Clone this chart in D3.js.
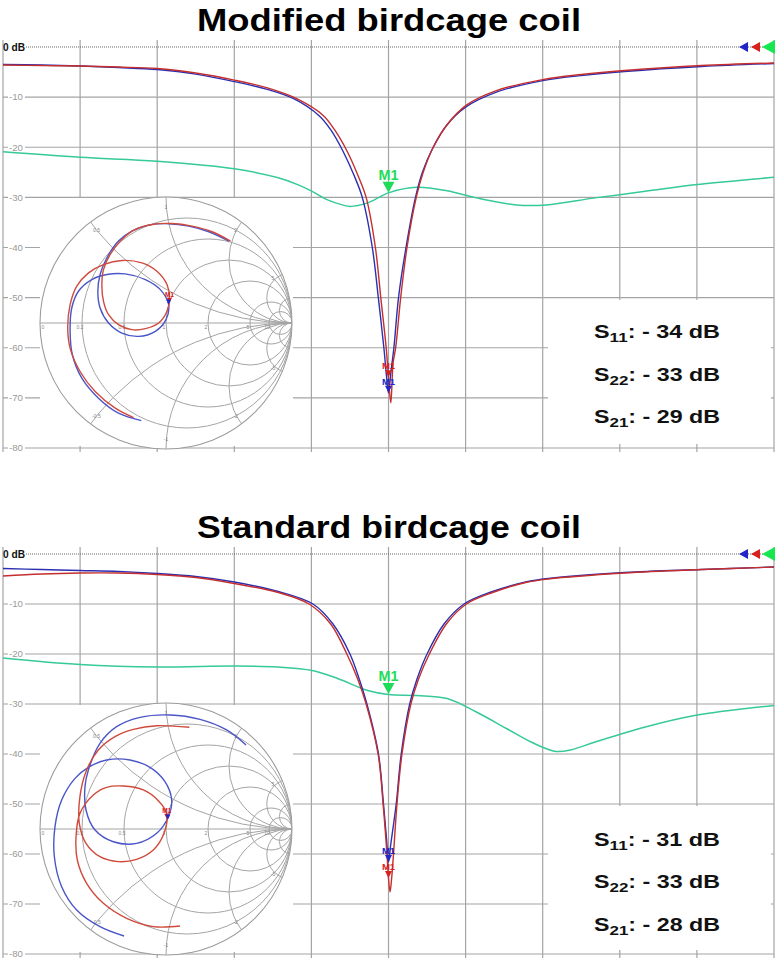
<!DOCTYPE html>
<html><head><meta charset="utf-8">
<script src="https://cdn.jsdelivr.net/npm/d3@7"></script>
<style>
body{margin:0;background:#fff}
svg{display:block}
text{font-family:"Liberation Sans",Arial,Helvetica,sans-serif}
</style>
</head><body>
<svg id="c" width="778" height="965"></svg>
<script>
// ================= DATA =================
const titles = ["Modified birdcage coil", "Standard birdcage coil"];
const dbTicks = [-10, -20, -30, -40, -50, -60, -70, -80];
const gridDivs = [1, 2, 3, 4, 5, 6, 7, 8, 9, 10];   // frequency divisions
const markerFreq = 5.0;                              // M1 frequency (division units)

// [frequency (div), dB]
const topS11 = [[0,-3.6],[0.5,-3.7],[1,-3.8],[1.5,-4.0],[2,-4.3],[2.5,-5.2],[3,-6.6],[3.44,-8.2],[3.81,-10.3],[4.15,-13.6],[4.3,-16.5],[4.47,-21],[4.6,-25.5],[4.71,-30],[4.83,-40],[4.9,-50],[4.97,-60],[5.0,-66],[5.03,-71],[5.06,-63],[5.093,-60],[5.158,-50],[5.24,-40],[5.36,-30],[5.45,-25],[5.58,-20],[5.76,-15.5],[6.01,-11.6],[6.4,-8.7],[7.0,-6.5],[7.5,-5.5],[8.06,-4.7],[9.06,-3.7],[10,-3.2]];
const topS22 = [[0,-3.5],[0.5,-3.6],[1,-3.8],[1.5,-4.1],[2,-4.5],[2.5,-5.4],[3,-6.9],[3.44,-8.5],[3.77,-10.3],[4.1,-13.7],[4.25,-16.5],[4.41,-20.8],[4.55,-25.5],[4.66,-30],[4.79,-40],[4.868,-50],[4.94,-60],[4.97,-65],[5.0,-69],[5.03,-65],[5.07,-60],[5.13,-50],[5.227,-40],[5.35,-30],[5.44,-25],[5.57,-20.3],[5.75,-15.7],[6.0,-12],[6.4,-9],[7.0,-6.7],[7.5,-5.7],[8.06,-4.9],[9.06,-3.9],[10,-3.3]];
const topS21 = [[0,-20.9],[1,-22.0],[2,-22.8],[3,-24.3],[3.57,-26.1],[3.83,-27.5],[4.01,-28.8],[4.21,-30.5],[4.4,-31.5],[4.5,-31.8],[4.73,-31.1],[5.0,-29.1],[5.37,-28.0],[5.76,-28.7],[6.14,-30.1],[6.66,-31.5],[7.04,-31.5],[7.68,-30.1],[8.33,-28.8],[8.97,-27.5],[10,-26.0]];
const topMarkerDb = [-65.9, -69.0, -29.1];   // S11, S22, S21 at M1

const botS11 = [[0,-4.4],[0.5,-4.0],[1,-3.8],[1.5,-3.8],[2,-4.1],[2.5,-4.7],[3,-5.9],[3.57,-7.7],[3.97,-10],[4.25,-14],[4.46,-20],[4.6,-25],[4.71,-30],[4.865,-40],[4.93,-50],[4.98,-60],[5.0,-64.8],[5.02,-67.6],[5.04,-65],[5.065,-60],[5.11,-50],[5.175,-40],[5.29,-30],[5.39,-25],[5.53,-20],[5.75,-14],[6.01,-10],[6.35,-7.7],[6.78,-5.7],[7.07,-5.0],[8.06,-3.8],[9.06,-3.1],[10,-2.6]];
const botS22 = [[0,-2.9],[0.5,-3.1],[1,-3.3],[1.5,-3.5],[2,-3.9],[2.5,-4.5],[3,-5.6],[3.57,-7.5],[4.02,-10],[4.28,-14],[4.5,-20],[4.62,-25],[4.72,-30],[4.87,-40],[4.935,-50],[4.975,-57],[5.0,-61.6],[5.03,-58],[5.1,-50],[5.165,-40],[5.275,-30],[5.37,-25],[5.5,-20],[5.72,-14],[5.98,-10],[6.33,-7.6],[6.78,-5.6],[7.07,-4.9],[8.06,-3.7],[9.06,-3.1],[10,-2.6]];
const botS21 = [[0,-20.8],[1,-22.1],[2,-22.6],[3,-22.4],[3.57,-22.6],[4.01,-23.3],[4.34,-24.9],[4.73,-27.3],[5.0,-28.1],[5.37,-28.3],[5.76,-28.9],[6.14,-31.6],[6.53,-34.9],[6.85,-37.6],[7.04,-38.9],[7.17,-39.5],[7.36,-39.2],[7.68,-37.6],[8.33,-34.6],[8.97,-32.3],[10,-30.3]];
const botMarkerDb = [-64.8, -61.6, -28.0];

// Smith chart traces: reflection coefficient [re, im]
const topSmithS11 = [[-0.257,-0.751],[-0.403,-0.676],[-0.562,-0.544],[-0.682,-0.385],[-0.761,-0.199],[-0.780,-0.040],[-0.761,0.146],[-0.708,0.292],[-0.615,0.398],[-0.496,0.464],[-0.350,0.496],[-0.191,0.477],[-0.072,0.411],[0.008,0.305],[0.027,0.199],[0.008,0.093],[-0.058,0.000],[-0.164,-0.045],[-0.271,-0.053],[-0.377,-0.013],[-0.456,0.066],[-0.496,0.172],[-0.509,0.305],[-0.496,0.424],[-0.443,0.544],[-0.350,0.663],[-0.244,0.743],[-0.111,0.782],[0.048,0.790],[0.207,0.769],[0.366,0.724],[0.512,0.650]];
const topSmithS22 = [[-0.196,-0.775],[-0.377,-0.716],[-0.536,-0.597],[-0.668,-0.438],[-0.743,-0.252],[-0.761,-0.066],[-0.748,0.119],[-0.695,0.252],[-0.589,0.345],[-0.469,0.385],[-0.324,0.390],[-0.164,0.345],[-0.045,0.265],[0.021,0.146],[0.000,0.027],[-0.085,-0.066],[-0.218,-0.106],[-0.350,-0.080],[-0.456,0.000],[-0.523,0.119],[-0.541,0.252],[-0.523,0.385],[-0.469,0.517],[-0.377,0.650],[-0.271,0.729],[-0.138,0.777],[0.021,0.788],[0.180,0.769],[0.340,0.724],[0.499,0.650]];
const topSmithM1 = [[0.027,0.185],[0.021,0.146]];   // S11, S22 marker positions

const botSmithS11 = [[0.111,-0.770],[-0.101,-0.775],[-0.312,-0.709],[-0.497,-0.590],[-0.630,-0.431],[-0.704,-0.246],[-0.714,-0.061],[-0.683,0.124],[-0.577,0.270],[-0.471,0.331],[-0.339,0.341],[-0.180,0.310],[-0.061,0.225],[0.005,0.124],[-0.016,-0.034],[-0.101,-0.167],[-0.233,-0.241],[-0.378,-0.259],[-0.524,-0.220],[-0.635,-0.114],[-0.688,0.045],[-0.683,0.257],[-0.635,0.455],[-0.537,0.627],[-0.405,0.733],[-0.259,0.791],[-0.074,0.820],[0.185,0.807]];
const botSmithS22 = [[-0.333,-0.849],[-0.524,-0.775],[-0.709,-0.643],[-0.828,-0.458],[-0.886,-0.220],[-0.881,0.019],[-0.828,0.230],[-0.722,0.402],[-0.616,0.489],[-0.471,0.548],[-0.286,0.548],[-0.127,0.489],[-0.008,0.376],[0.045,0.230],[0.019,0.098],[-0.074,-0.034],[-0.233,-0.114],[-0.418,-0.101],[-0.563,-0.008],[-0.635,0.151],[-0.643,0.336],[-0.616,0.468],[-0.524,0.680],[-0.392,0.812],[-0.206,0.886],[0.032,0.905],[0.270,0.870],[0.481,0.786],[0.635,0.667]];
const botSmithM1 = [[0.006,0.105],[0.015,0.075]];

const summaryTop = [["11", ": - 34 dB"], ["22", ": - 33 dB"], ["21", ": - 29 dB"]];
const summaryBot = [["11", ": - 31 dB"], ["22", ": - 33 dB"], ["21", ": - 28 dB"]];

const smithR = [0.2, 0.5, 1, 2, 5, 10];
const smithX = [0.5, 1, 2, 5, 10];
const smithRLabels = [["0", 0], ["0.2", 0.2], ["0.5", 0.5], ["1", 1], ["2", 2], ["5", 5], ["10", 10]];
const smithXLabels = [["0.5", 0.5], ["1", 1], ["2", 2], ["5", 5], ["-0.5", -0.5], ["-1", -1], ["-2", -2], ["-5", -5]];

// ================= STYLE =================
const C = {
  red: "#c42e2e", blue: "#2b2fb0", green: "#36c99a",
  mGreen: "#1edc5a", mRed: "#d8201c", mBlue: "#2226c8",
  sRed: "#cf4a3c", sBlue: "#4a55c8",
  grid: "#a4a4a4", lab: "#9a9a9a", sgrid: "#a4a4a4"
};

const svg = d3.select("#c");
svg.append("rect").attr("width", 778).attr("height", 965).attr("fill", "#fff");
const x = d3.scaleLinear().domain([0, 10]).range([3, 774]);

const SR = 126;
svg.append("defs").append("clipPath").attr("id", "uc")
  .append("circle").attr("cx", 0).attr("cy", 0).attr("r", SR);

const panels = [
  { title: titles[0], titleY: 31, y0: 47, y1: 448, s11: topS11, s22: topS22, s21: topS21, mk: topMarkerDb,
    scx: 166, scy: 323, inset: [40, 198, 293, 446], box: [548, 300, 771, 444], sm11: topSmithS11, sm22: topSmithS22, sm1: topSmithM1,
    summary: summaryTop, sumY: [338, 381, 423] },
  { title: titles[1], titleY: 538, y0: 554, y1: 954, s11: botS11, s22: botS22, s21: botS21, mk: botMarkerDb,
    scx: 166, scy: 829, inset: [40, 705, 293, 952], box: [548, 806, 771, 950], sm11: botSmithS11, sm22: botSmithS22, sm1: botSmithM1,
    summary: summaryBot, sumY: [846, 888, 931] }
];

function tri(cx, tipY, w, h) {
  return `M${cx - w / 2},${tipY - h}L${cx + w / 2},${tipY - h}L${cx},${tipY}Z`;
}

panels.forEach(p => {
  const y = d3.scaleLinear().domain([0, -80]).range([p.y0, p.y1]);
  const g = svg.append("g");

  // ---- grid ----
  const grid = g.append("g").attr("stroke", C.grid).attr("stroke-width", 1.2).attr("fill", "none");
  grid.selectAll(".v").data(gridDivs).join("line")
    .attr("x1", d => x(d)).attr("x2", d => x(d))
    .attr("y1", p.y0 - 7).attr("y2", p.y1 + 4);
  grid.append("line").attr("x1", x(0)).attr("x2", x(0)).attr("y1", p.y0 - 7).attr("y2", p.y1 + 4);
  grid.selectAll(".h").data(dbTicks).join("line")
    .attr("x1", x(0)).attr("x2", x(10))
    .attr("y1", d => y(d)).attr("y2", d => y(d));

  // tick labels with white background
  const lab = g.append("g");
  lab.selectAll("rect").data(dbTicks).join("rect")
    .attr("x", 8).attr("y", d => y(d) - 5).attr("width", 17).attr("height", 10).attr("fill", "#fff");
  lab.selectAll("text").data(dbTicks).join("text")
    .attr("x", 9).attr("y", d => y(d) + 3.3)
    .attr("font-size", 8.5).attr("fill", C.lab)
    .attr("textLength", 14).attr("lengthAdjust", "spacingAndGlyphs")
    .text(d => d);

  // 0 dB reference (dotted)
  g.append("line").attr("x1", 26).attr("x2", x(10)).attr("y1", y(0)).attr("y2", y(0))
    .attr("stroke", "#666").attr("stroke-width", 1).attr("stroke-dasharray", "1,1");
  g.append("text").attr("x", 3).attr("y", y(0) + 4).attr("font-size", 10.5).attr("font-weight", "bold")
    .attr("fill", "#111").attr("textLength", 22).attr("lengthAdjust", "spacingAndGlyphs").text("0 dB");

  // white inset areas
  const [ix0, iy0, ix1, iy1] = p.inset;
  g.append("rect").attr("x", ix0).attr("y", iy0).attr("width", ix1 - ix0).attr("height", iy1 - iy0).attr("fill", "#fff");
  const [bx0, by0, bx1, by1] = p.box;
  g.append("rect").attr("x", bx0).attr("y", by0).attr("width", bx1 - bx0).attr("height", by1 - by0).attr("fill", "#fff");

  // ---- Smith chart ----
  const sg = g.append("g").attr("transform", `translate(${p.scx},${p.scy})`);
  const sx = d3.scaleLinear().domain([-1, 1]).range([-SR, SR]);
  const sy = d3.scaleLinear().domain([-1, 1]).range([SR, -SR]);
  sg.append("circle").attr("r", SR).attr("fill", "#fff").attr("stroke", "#9c9c9c").attr("stroke-width", 1.1);
  const sgrid = sg.append("g").attr("clip-path", "url(#uc)").attr("fill", "none").attr("stroke", C.sgrid).attr("stroke-width", 1);
  sgrid.selectAll(".r").data(smithR).join("circle")
    .attr("cx", r => sx(r / (r + 1))).attr("cy", sy(0)).attr("r", r => sx(1 / (r + 1)) - sx(0));
  const xs = smithX.flatMap(v => [v, -v]);
  sgrid.selectAll(".x").data(xs).join("circle")
    .attr("cx", sx(1)).attr("cy", v => sy(1 / v)).attr("r", v => sx(1 / Math.abs(v)) - sx(0));
  sgrid.append("line").attr("x1", sx(-1)).attr("x2", sx(1)).attr("y1", sy(0)).attr("y2", sy(0));
  const sl = sg.append("g").attr("font-size", 5).attr("fill", "#888").attr("text-anchor", "middle");
  sl.selectAll(".rl").data(smithRLabels).join("text")
    .attr("x", d => sx((d[1] - 1) / (d[1] + 1)) + (d[1] === 0 ? 3 : -2)).attr("y", sy(0) + 6)
    .text(d => d[0]);
  sl.selectAll(".xl").data(smithXLabels).join("text")
    .attr("x", d => sx(0.92 * (d[1] * d[1] - 1) / (d[1] * d[1] + 1)))
    .attr("y", d => sy(0.92 * 2 * d[1] / (d[1] * d[1] + 1)) + 2)
    .text(d => d[0]);

  const sline = d3.line().x(d => sx(d[0])).y(d => sy(d[1])).curve(d3.curveCatmullRom.alpha(0.5));
  sg.append("path").attr("d", sline(p.sm22)).attr("fill", "none").attr("stroke", C.sBlue).attr("stroke-width", 1.4);
  sg.append("path").attr("d", sline(p.sm11)).attr("fill", "none").attr("stroke", C.sRed).attr("stroke-width", 1.4);
  sg.append("text").attr("x", sx(p.sm1[0][0])).attr("y", sy(p.sm1[0][1]) - 3)
    .attr("font-size", 6.5).attr("font-weight", "bold").attr("fill", C.mRed).attr("text-anchor", "middle").text("M1");
  sg.append("path").attr("d", tri(sx(p.sm1[0][0]), sy(p.sm1[0][1]) + 3, 5, 5)).attr("fill", C.mRed);
  sg.append("path").attr("d", tri(sx(p.sm1[1][0]), sy(p.sm1[1][1]), 5, 5)).attr("fill", C.mBlue);

  // ---- main traces ----
  const line = d3.line().x(d => x(d[0])).y(d => y(d[1])).curve(d3.curveCatmullRom.alpha(0.5));
  g.append("path").attr("d", line(p.s21)).attr("fill", "none").attr("stroke", C.green).attr("stroke-width", 1.5);
  g.append("path").attr("d", line(p.s22)).attr("fill", "none").attr("stroke", C.blue).attr("stroke-width", 1.4);
  g.append("path").attr("d", line(p.s11)).attr("fill", "none").attr("stroke", C.red).attr("stroke-width", 1.4);

  // ---- M1 markers ----
  const mx = x(markerFreq);
  g.append("path").attr("d", tri(mx, y(p.mk[2]), 12, 11)).attr("fill", C.mGreen);
  g.append("text").attr("x", mx).attr("y", y(p.mk[2]) - 13).attr("text-anchor", "middle")
    .attr("font-size", 14).attr("fill", C.mGreen).attr("font-weight", "bold")
    .attr("textLength", 20).attr("lengthAdjust", "spacingAndGlyphs").text("M1");
  [[p.mk[0], C.mRed], [p.mk[1], C.mBlue]].forEach(([v, col]) => {
    g.append("path").attr("d", tri(mx, y(v), 7, 7)).attr("fill", col);
    g.append("text").attr("x", mx).attr("y", y(v) - 8).attr("text-anchor", "middle")
      .attr("font-size", 9.5).attr("font-weight", "bold").attr("fill", col).text("M1");
  });

  // reference-level arrows (top right)
  const ry = y(0);
  [[739, 748, 5, C.mBlue], [751, 760, 5, C.mRed], [762, 775, 7, "#16e650"]].forEach(([a, b, h, col]) => {
    g.append("path").attr("d", `M${a},${ry}L${b},${ry - h}L${b},${ry + h}Z`).attr("fill", col);
  });

  // ---- summary text ----
  p.summary.forEach((s, i) => {
    const t = g.append("text").attr("x", 594).attr("y", p.sumY[i]).attr("font-size", 18.5)
      .attr("font-weight", "bold").attr("fill", "#111")
      .attr("textLength", 126).attr("lengthAdjust", "spacingAndGlyphs");
    t.append("tspan").text("S");
    t.append("tspan").attr("font-size", 13.5).attr("dy", 3.5).text(s[0]);
    t.append("tspan").attr("dy", -3.5).text(s[1]);
  });

  // ---- title ----
  g.append("text").attr("x", 389).attr("y", p.titleY).attr("text-anchor", "middle")
    .attr("font-size", 32).attr("font-weight", "bold").attr("fill", "#000")
    .attr("textLength", 384).attr("lengthAdjust", "spacingAndGlyphs").text(p.title);
});
</script>
</body></html>
